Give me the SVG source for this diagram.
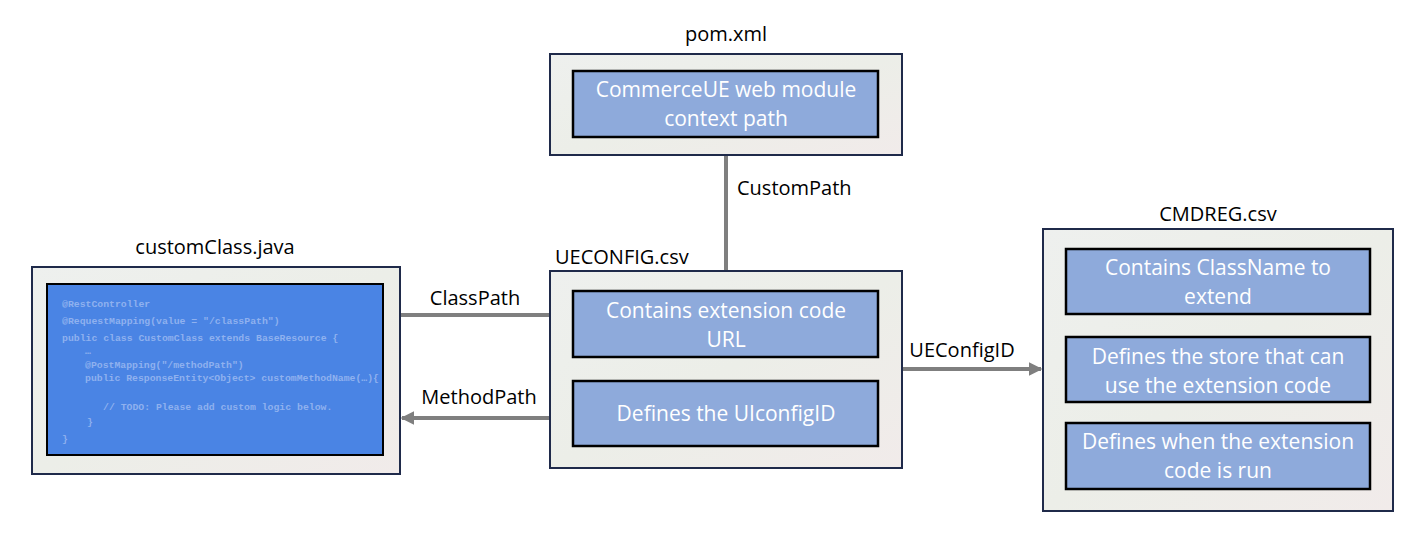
<svg xmlns="http://www.w3.org/2000/svg" width="1428" height="553" viewBox="0 0 1428 553">
<defs>
<linearGradient id="og" x1="0" y1="0" x2="1" y2="1">
<stop offset="0" stop-color="#eef0ee"/>
<stop offset="0.5" stop-color="#eceee8"/>
<stop offset="1" stop-color="#f1ebea"/>
</linearGradient>
<marker id="ah" viewBox="0 0 10 10" refX="9" refY="5" markerWidth="3.4" markerHeight="3.4" orient="auto" markerUnits="strokeWidth">
<path d="M0,0 L10,5 L0,10 z" fill="#7f7f7f"/>
</marker>
<style>
.outer{fill:url(#og);stroke:#1f2a4a;stroke-width:2}
.inner{fill:#8eaadb;stroke:#000;stroke-width:2.5}
.it{fill:#fff;font-family:"Open Sans","Liberation Sans",sans-serif;font-size:21px;text-anchor:middle}
.lbl{fill:#000;font-family:"Open Sans","Liberation Sans",sans-serif;font-size:20px}
.conn{stroke:#7f7f7f;stroke-width:4;fill:none}
.code{fill:#8fb1ef;font-family:"Liberation Mono",monospace;font-size:9.8px;font-weight:bold}
</style>
</defs>
<rect width="1428" height="553" fill="#fff"/>

<g id="connectors">
<line class="conn" x1="726" y1="155" x2="726" y2="271"/>
<line class="conn" x1="400" y1="315" x2="550" y2="315"/>
<line class="conn" x1="550" y1="418" x2="402" y2="418" marker-end="url(#ah)"/>
<line class="conn" x1="902" y1="369" x2="1041" y2="369" marker-end="url(#ah)"/>
<text class="lbl" x="737" y="195">CustomPath</text>
<text class="lbl" x="475" y="305" text-anchor="middle">ClassPath</text>
<text class="lbl" x="479" y="404" text-anchor="middle">MethodPath</text>
<text class="lbl" x="962" y="357" text-anchor="middle">UEConfigID</text>
</g>

<g id="pom">
<text class="lbl" x="726" y="41" text-anchor="middle">pom.xml</text>
<rect class="outer" x="550" y="54" width="352" height="101"/>
<rect class="inner" x="573" y="71" width="305" height="66"/>
<text class="it" x="726" y="97">CommerceUE web module</text>
<text class="it" x="726" y="126">context path</text>
</g>

<g id="ueconfig">
<text class="lbl" x="555" y="264">UECONFIG.csv</text>
<rect class="outer" x="550" y="271" width="352" height="197"/>
<rect class="inner" x="573" y="291" width="305" height="66"/>
<text class="it" x="726" y="318">Contains extension code</text>
<text class="it" x="726" y="347">URL</text>
<rect class="inner" x="573" y="381" width="305" height="65"/>
<text class="it" x="726" y="421">Defines the UIconfigID</text>
</g>

<g id="customclass">
<text class="lbl" x="215" y="254" text-anchor="middle">customClass.java</text>
<rect class="outer" x="32" y="267" width="368" height="207"/>
<rect x="47" y="284" width="336" height="171" fill="#4a84e4" stroke="#000" stroke-width="2"/>
<text class="code" x="62" y="307">@RestController</text>
<text class="code" x="62" y="324">@RequestMapping(value = "/classPath")</text>
<text class="code" x="62" y="341">public class CustomClass extends BaseResource {</text>
<text class="code" x="85" y="354">…</text>
<text class="code" x="85" y="368">@PostMapping("/methodPath")</text>
<text class="code" x="85" y="381">public ResponseEntity&lt;Object&gt; customMethodName(…){</text>
<text class="code" x="103" y="410">// TODO: Please add custom logic below.</text>
<text class="code" x="87" y="425">}</text>
<text class="code" x="62" y="442">}</text>
</g>

<g id="cmdreg">
<text class="lbl" x="1218" y="221" text-anchor="middle">CMDREG.csv</text>
<rect class="outer" x="1043" y="229" width="350" height="282"/>
<rect class="inner" x="1066" y="249" width="304" height="65"/>
<text class="it" x="1218" y="275">Contains ClassName to</text>
<text class="it" x="1218" y="304">extend</text>
<rect class="inner" x="1066" y="337" width="304" height="65"/>
<text class="it" x="1218" y="364">Defines the store that can</text>
<text class="it" x="1218" y="393">use the extension code</text>
<rect class="inner" x="1066" y="423" width="304" height="66"/>
<text class="it" x="1218" y="449">Defines when the extension</text>
<text class="it" x="1218" y="478">code is run</text>
</g>
</svg>
